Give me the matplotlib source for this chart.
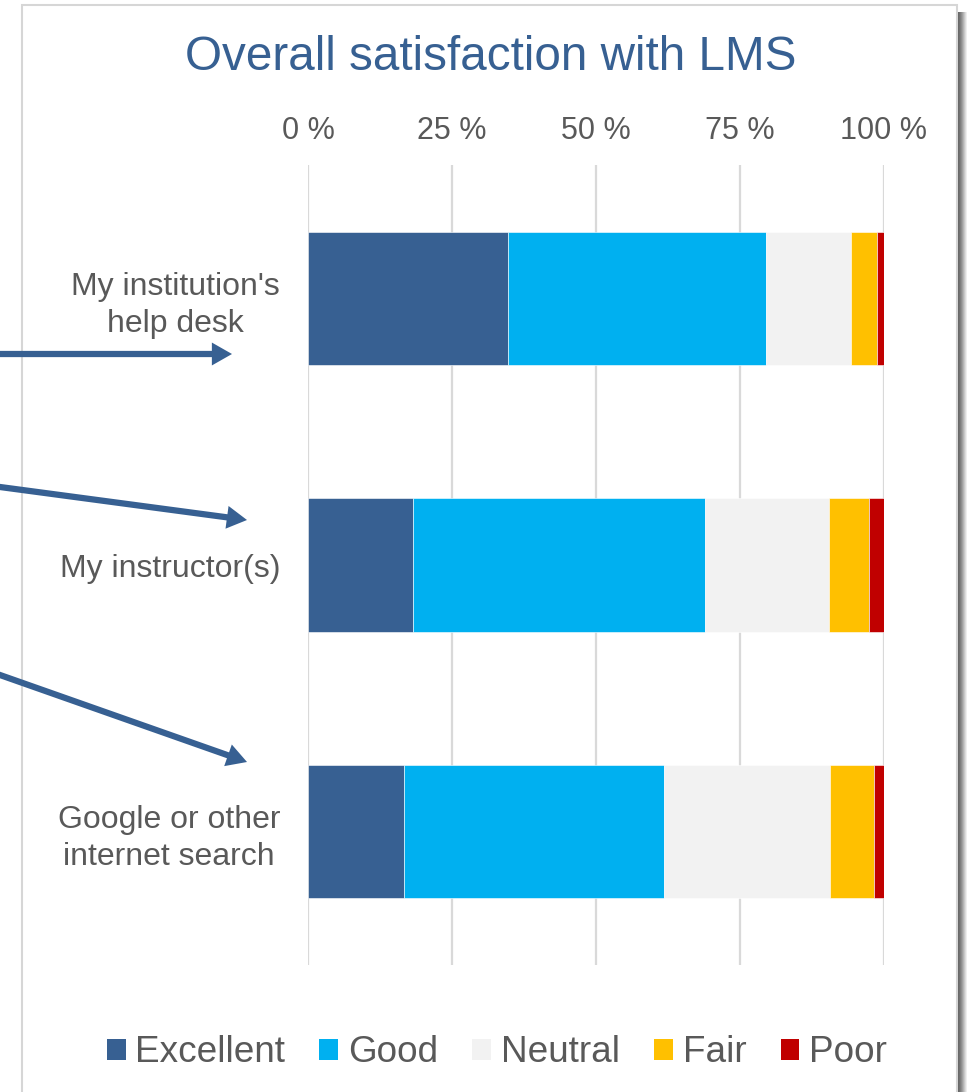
import matplotlib
matplotlib.use("Agg")
import matplotlib.pyplot as plt
import matplotlib.patches as mpatches
import numpy as np

plt.rcParams['font.family'] = ['Liberation Sans', 'DejaVu Sans']

# ---- data ----
categories = ["My institution's\nhelp desk", "My instructor(s)", "Google or other\ninternet search"]
series_names = ["Excellent", "Good", "Neutral", "Fair", "Poor"]
excellent = [34.7, 18.3, 16.7]
good = [44.9, 50.7, 45.1]
neutral = [14.7, 21.4, 28.8]
fair = [4.4, 7.0, 7.6]
poor = [1.3, 2.6, 1.8]
tick_values = [0, 25, 50, 75, 100]
tick_labels = ["0 %", "25 %", "50 %", "75 %", "100 %"]
title = "Overall satisfaction with LMS"

colors = ["#376092", "#00B0F0", "#F2F2F2", "#FFC000", "#C00000"]
text_color = "#595959"
title_color = "#376092"
grid_color = "#D9D9D9"

W, H = 969, 1092
fig = plt.figure(figsize=(W / 100, H / 100), dpi=100)
fig.patch.set_facecolor("white")


def fx(x):
    return x / W


def fy(y):
    return 1 - y / H


# panel shadow (gradient) + border
shadow_cols = ["#5a5a5a", "#646464", "#707070", "#7e7e7e", "#8e8e8e", "#a0a0a0",
               "#b4b4b4", "#c8c8c8", "#dcdcdc", "#eeeeee"]
for i, c in enumerate(shadow_cols):
    fig.patches.append(mpatches.Rectangle((fx(957 + i), fy(1100)), 1.05 / W, (1100 - 12) / H,
                                          transform=fig.transFigure, facecolor=c,
                                          edgecolor="none", zorder=0))
fig.patches.append(mpatches.Rectangle((fx(22), fy(1100)), (957 - 22) / W, (1100 - 5) / H,
                                      transform=fig.transFigure, facecolor="white",
                                      edgecolor="#D6D6D6", linewidth=1.5, zorder=1))

ax = fig.add_axes([fx(308), fy(965), (884 - 308) / W, (965 - 165) / H])
ax.set_facecolor("none")
ax.set_zorder(2)

y = np.arange(len(categories))
series = [excellent, good, neutral, fair, poor]
left = np.zeros(len(categories))
handles = []
for name, vals, c in zip(series_names, series, colors):
    vals = np.array(vals)
    ax.barh(y, vals, left=left, height=0.5, color=c, edgecolor="white",
            linewidth=0.4, label=name, zorder=3)
    handles.append(mpatches.Patch(facecolor=c, edgecolor="none", label=name))
    left += vals

ax.set_xlim(0, 100)
ax.set_ylim(2.5, -0.5)
ax.set_xticks(tick_values)
ax.set_xticklabels(tick_labels)
ax.xaxis.tick_top()
ax.tick_params(axis="x", length=0, pad=14, labelsize=22, labelcolor=text_color)
ax.set_yticks(y)
ax.set_yticklabels(categories, multialignment="center")
ax.tick_params(axis="y", length=0, pad=20, labelsize=23, labelcolor=text_color)
for lab in ax.get_yticklabels():
    lab.set_linespacing(1.3)
ax.grid(axis="x", color=grid_color, linewidth=1.6, zorder=0)
ax.grid(axis="y", visible=False)
for s in ax.spines.values():
    s.set_visible(False)

fig.text(fx(491), fy(58), title, ha="center", va="center", fontsize=34.3,
         color=title_color, zorder=5)

leg = fig.legend(handles=handles, loc="center", bbox_to_anchor=(fx(497), fy(1053)),
                 ncol=5, frameon=False, fontsize=26.6, handlelength=0.51, handleheight=0.51,
                 handletextpad=0.27, columnspacing=0.92, borderaxespad=0, borderpad=0)
for t in leg.get_texts():
    t.set_color(text_color)

# arrows (filled heads)
arrows = [((0, 354), (232, 354)), ((0, 487), (247, 520)), ((0, 675), (247, 762))]
for (x0, y0), (x1, y1) in arrows:
    # extend the start slightly beyond the left figure edge
    dx, dy = x1 - x0, y1 - y0
    t = -10 / dx
    sx, sy = x0 + t * dx, y0 + t * dy
    fig.add_artist(mpatches.FancyArrowPatch(
        (fx(sx), fy(sy)), (fx(x1), fy(y1)), transform=fig.transFigure,
        arrowstyle="simple,head_width=1.65,head_length=1.45,tail_width=0.45",
        mutation_scale=10, facecolor=title_color, edgecolor="none", linewidth=0,
        shrinkA=0, shrinkB=0, zorder=6))

fig.savefig("out.png", dpi=100)
